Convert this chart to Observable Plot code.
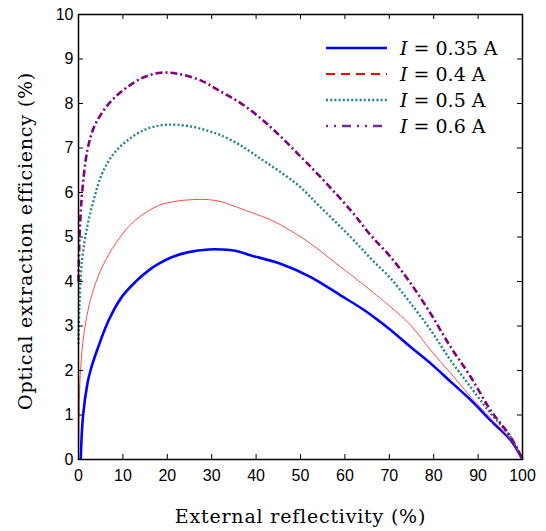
<!DOCTYPE html>
<html><head><meta charset="utf-8">
<script src="https://cdn.jsdelivr.net/npm/d3@7"></script>
<script src="https://cdn.jsdelivr.net/npm/@observablehq/plot@0.6"></script>
<style>
body{margin:0;background:#fff}
#wrap{position:relative;width:546px;height:531px}
#legend{position:absolute;left:325px;top:35px;font-family:"DejaVu Serif",serif;font-size:19px;color:#000}
.row{display:flex;align-items:center;height:26px;white-space:nowrap}
.row svg{width:63px;height:26px;margin-right:12px;flex:none}
</style></head><body><div id="wrap"></div>
<script>
const xTicks = [0,10,20,30,40,50,60,70,80,90,100];
const yTicks = [0,1,2,3,4,5,6,7,8,9,10];
const seriesNames = ["0.35","0.4","0.5","0.6"];
const xLabel = "External reflectivity (%)";
const yLabel = "Optical extraction efficiency (%)";

const x035 = [0.5,1,2,2.7,4.2,6.8,9.8,12.8,15.8,18.1,21.1,24.8,29.3,32.3,35.4,38.7,45.5,52.3,59,64.3,68,70.3,74.8,79.3,83.8,88.3,92.8,97.3,100];
const y035 = [0,0.96,1.7,2.0,2.46,3.13,3.66,3.99,4.25,4.4,4.55,4.66,4.72,4.72,4.69,4.59,4.40,4.10,3.69,3.36,3.09,2.91,2.53,2.16,1.75,1.34,0.88,0.44,0];

const x04 = [0.05,0.15,0.3,0.8,1.5,2.3,3.8,6.1,9.1,12.8,18.1,21.8,25.6,29.3,32.3,34.6,38.7,43.2,47.5,52.3,59,64.3,68,70.3,74.8,79.3,83.8,88.3,92.8,97.3,100];
const y04 = [0.2,1.0,1.7,2.46,3.0,3.43,3.95,4.48,4.96,5.38,5.71,5.80,5.84,5.84,5.79,5.71,5.56,5.39,5.16,4.85,4.33,3.92,3.62,3.43,3.02,2.46,1.94,1.41,0.93,0.45,0];

const x05 = [0,0.2,0.8,2.0,3.5,5.3,7.9,11,14.7,18.5,22.2,26,29,32,36.5,41,45.5,50,54.1,61.3,65.8,70.3,74.8,79.3,83.8,88.3,92.8,97.3,100];
const y05 = [2.6,3.43,4.48,5.25,5.86,6.42,6.87,7.17,7.40,7.51,7.52,7.47,7.39,7.29,7.06,6.76,6.46,6.12,5.71,5.0,4.52,4.07,3.51,2.91,2.23,1.63,1.04,0.51,0];

const x06 = [0,0.2,0.45,0.8,2.0,3.5,5.7,7.9,11,14.7,18.5,22.2,27.5,32,36.5,41,45.5,50,54.1,61.3,65.8,70.3,74.8,79.3,83.8,88.3,92.8,97.3,100];
const y06 = [4.0,4.9,5.46,5.98,6.95,7.47,7.85,8.11,8.37,8.59,8.69,8.67,8.52,8.27,8.01,7.67,7.26,6.81,6.39,5.6,5.04,4.55,3.96,3.28,2.53,1.86,1.11,0.51,0];

const styles = [
  {stroke:"#0000ff", strokeWidth:2.6, line:{stroke:"#0000ff", strokeWidth:2.6}},
  {stroke:"#ff4a4a", strokeWidth:1, line:{stroke:"#ff0000", strokeWidth:2.2, strokeDasharray:"9,6"}},
  {stroke:"#1f8585", strokeWidth:2.4, strokeDasharray:"2,2.2", line:{stroke:"#1f8585", strokeWidth:2.4, strokeDasharray:"2,2.2"}},
  {stroke:"#800080", strokeWidth:2.6, strokeDasharray:"7,3,2,3", line:{stroke:"#7a2a9a", strokeWidth:2.6, strokeDasharray:"2,6,2,6,9,6"}}
];
const xs = [x035,x04,x05,x06], ys = [y035,y04,y05,y06];
const tables = xs.map((xa,i)=>xa.map((x,j)=>({x, y: ys[i][j]})));

const W = 546, H = 531, mL = 78, mR = 24, mT = 14, mB = 72;
const iW = W-mL-mR, iH = H-mT-mB;
const tickFont = "Liberation Sans, Arial, sans-serif";
const serif = "DejaVu Serif, serif";

const chart = Plot.plot({
  width: W, height: H,
  marginLeft: mL, marginRight: mR, marginTop: mT, marginBottom: mB,
  style: {fontFamily: tickFont, fontSize: "16px", background: "#fff", color: "#000"},
  x: {domain: [0,100]},
  y: {domain: [0,10]},
  marks: [
    ...tables.map((t,i)=>Plot.line(t, {x:"x", y:"y", curve:"catmull-rom", stroke: styles[i].stroke, strokeWidth: styles[i].strokeWidth, strokeDasharray: styles[i].strokeDasharray, strokeLinecap:"butt", strokeLinejoin:"round"})),
    Plot.frame({stroke:"#000", strokeWidth:1.5}),
    Plot.tickX(xTicks, {x: d=>d, insetTop: iH-5, stroke:"#000"}),
    Plot.tickX(xTicks, {x: d=>d, insetBottom: iH-5, stroke:"#000"}),
    Plot.tickY(yTicks, {y: d=>d, insetRight: iW-5, stroke:"#000"}),
    Plot.tickY(yTicks, {y: d=>d, insetLeft: iW-5, stroke:"#000"}),
    Plot.axisX({ticks: xTicks, tickSize: 0, tickPadding: 10, label: null, fontSize: 16, fontFamily: tickFont, tickFormat: d=>String(d)}),
    Plot.axisY({ticks: yTicks, tickSize: 0, tickPadding: 5, label: null, fontSize: 16, fontFamily: tickFont, tickFormat: d=>String(d)}),
    Plot.text([xLabel], {text: d=>d, frameAnchor: "bottom", textAnchor: "middle", dy: 57, fontFamily: serif, fontSize: 19, fill:"#000", lineAnchor:"middle"}),
    Plot.text([yLabel], {text: d=>d, frameAnchor: "left", textAnchor: "middle", dx: -53, dy: 4, rotate: -90, fontFamily: serif, fontSize: 19, fill:"#000", lineAnchor:"middle"})
  ]
});
d3.select(chart).selectAll("text")
  .filter(function(){ return this.textContent === xLabel || this.textContent === yLabel; })
  .style("letter-spacing", "0.8px");
const wrap = document.getElementById("wrap");
wrap.appendChild(chart);

const leg = document.createElement("div");
leg.id = "legend";
seriesNames.forEach((n,i)=>{
  const row = document.createElement("div");
  row.className = "row";
  const s = styles[i].line;
  row.innerHTML = `<svg viewBox="0 0 63 26"><line x1="1" y1="13" x2="62" y2="13" stroke="${s.stroke}" stroke-width="${s.strokeWidth}" ${s.strokeDasharray?`stroke-dasharray="${s.strokeDasharray}"`:""}/></svg><span><i>I</i> = ${n} A</span>`;
  leg.appendChild(row);
});
wrap.appendChild(leg);
</script></body></html>
